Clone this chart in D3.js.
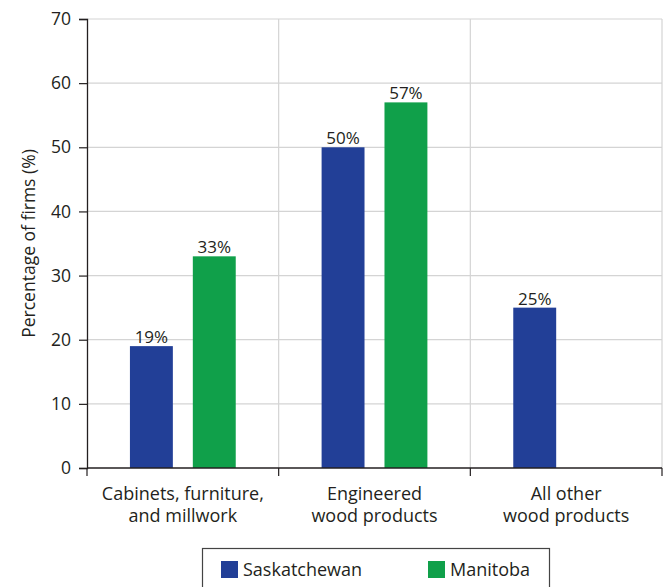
<!DOCTYPE html>
<html>
<head>
<meta charset="utf-8">
<script src="https://cdn.jsdelivr.net/npm/d3@7"></script>
<style>
  html, body { margin: 0; padding: 0; background: #fff; }
  svg { display: block; font-family: "Open Sans", "Noto Sans", sans-serif; }
</style>
</head>
<body>
<div id="chart"></div>
<script>
// Share of firms by product category, per province
const categories = [
  ["Cabinets, furniture,", "and millwork"],
  ["Engineered", "wood products"],
  ["All other", "wood products"]
];
const seriesNames = ["Saskatchewan", "Manitoba"];
const saskatchewan = [19, 50, 25];
const manitoba = [33, 57, null];
const yTicks = [0, 10, 20, 30, 40, 50, 60, 70];

const colors = { Saskatchewan: "#223f97", Manitoba: "#10a04a" };
const textColor = "#231f20";

const W = 669, H = 587;
const margin = { top: 19, right: 7, bottom: 119, left: 87 };
const innerW = W - margin.left - margin.right;
const innerH = H - margin.top - margin.bottom;

const svg = d3.select("#chart").append("svg")
  .attr("width", W).attr("height", H);

const g = svg.append("g").attr("transform", `translate(${margin.left},${margin.top})`);

const catKeys = categories.map((c, i) => i);
const x0 = d3.scaleBand().domain(catKeys).range([0, innerW]).padding(0);
const x1 = d3.scaleBand().domain(seriesNames)
  .range([x0.bandwidth() * 0.224, x0.bandwidth() * 0.776])
  .paddingInner(0.3175).paddingOuter(0);
const y = d3.scaleLinear().domain([0, 70]).range([innerH, 0]);

// horizontal gridlines
g.append("g").selectAll("line")
  .data(yTicks.filter(t => t > 0))
  .join("line")
  .attr("x1", 0).attr("x2", innerW)
  .attr("y1", d => y(d)).attr("y2", d => y(d))
  .attr("stroke", "#d4d4d4").attr("stroke-width", 1.2);

// vertical separators between categories
g.append("g").selectAll("line")
  .data(catKeys.slice(1).concat([catKeys.length]))
  .join("line")
  .attr("x1", d => d * x0.step()).attr("x2", d => d * x0.step())
  .attr("y1", 0).attr("y2", innerH)
  .attr("stroke", "#d4d4d4").attr("stroke-width", 1.2);

// bars
const rows = catKeys.map(i => ({
  i,
  values: [
    { key: "Saskatchewan", v: saskatchewan[i] },
    { key: "Manitoba", v: manitoba[i] }
  ].filter(d => d.v != null)
}));

const grp = g.append("g").selectAll("g")
  .data(rows).join("g")
  .attr("transform", d => `translate(${x0(d.i)},0)`);

grp.selectAll("rect")
  .data(d => d.values)
  .join("rect")
  .attr("x", d => x1(d.key))
  .attr("width", x1.bandwidth())
  .attr("y", d => y(d.v))
  .attr("height", d => innerH - y(d.v))
  .attr("fill", d => colors[d.key]);

grp.selectAll("text")
  .data(d => d.values)
  .join("text")
  .attr("x", d => x1(d.key) + x1.bandwidth() / 2)
  .attr("y", d => y(d.v) - 3)
  .attr("text-anchor", "middle")
  .attr("font-size", 17)
  .attr("fill", textColor)
  .text(d => d.v + "%");

// y axis
const yAxis = g.append("g")
  .call(d3.axisLeft(y).tickValues(yTicks).tickSize(8).tickPadding(8));
yAxis.select(".domain").attr("stroke", "#231f20").attr("stroke-width", 1.3);
yAxis.selectAll(".tick line").attr("stroke", "#231f20").attr("stroke-width", 1.2);
yAxis.selectAll(".tick text")
  .attr("font-size", 17.5).attr("fill", textColor)
  .attr("font-family", "Open Sans, Noto Sans, sans-serif");

// x axis baseline with ticks at category boundaries
const xb = g.append("g").attr("transform", `translate(0,${innerH})`);
xb.append("line")
  .attr("x1", 0).attr("x2", innerW)
  .attr("stroke", "#231f20").attr("stroke-width", 1.3);
xb.selectAll(".bt")
  .data(d3.range(categories.length + 1))
  .join("line").attr("class", "bt")
  .attr("x1", d => d * x0.step()).attr("x2", d => d * x0.step())
  .attr("y1", 0).attr("y2", 8)
  .attr("stroke", "#231f20").attr("stroke-width", 1.2);

// category labels
const lab = xb.selectAll(".cat")
  .data(categories.map((c, i) => ({ c, i })))
  .join("text").attr("class", "cat")
  .attr("text-anchor", "middle")
  .attr("font-size", 18)
  .attr("fill", textColor)
  .attr("transform", d => `translate(${x0(d.i) + x0.bandwidth() / 2},0)`);
lab.selectAll("tspan")
  .data(d => d.c)
  .join("tspan")
  .attr("x", 0)
  .attr("y", (d, k) => 32 + k * 22)
  .text(d => d);

// y axis title
svg.append("text")
  .attr("transform", `translate(35,${margin.top + innerH / 2}) rotate(-90)`)
  .attr("text-anchor", "middle")
  .attr("font-size", 17.5)
  .attr("fill", textColor)
  .text("Percentage of firms (%)");

// legend
const legend = svg.append("g");
legend.append("rect")
  .attr("x", 202.5).attr("y", 548.5)
  .attr("width", 347).attr("height", 60)
  .attr("fill", "none").attr("stroke", "#444").attr("stroke-width", 1.2);
const legX = [221, 428];
const items = legend.selectAll(".li")
  .data(seriesNames).join("g").attr("class", "li")
  .attr("transform", (d, i) => `translate(${legX[i]},561)`);
items.append("rect")
  .attr("width", 17).attr("height", 17)
  .attr("fill", d => colors[d]);
items.append("text")
  .attr("x", 22).attr("y", 15)
  .attr("font-size", 18)
  .attr("fill", textColor)
  .text(d => d);
</script>
</body>
</html>
